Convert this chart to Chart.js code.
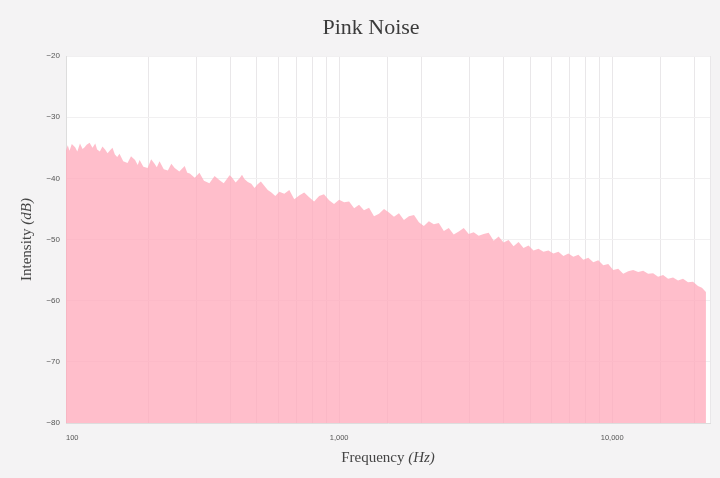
<!DOCTYPE html>
<html>
<head>
<meta charset="utf-8">
<script src="https://cdn.jsdelivr.net/npm/chart.js@4"></script>
<style>
  html, body { margin: 0; padding: 0; background: #ffffff; }
  #wrap { width: 720px; height: 478px; }
</style>
</head>
<body>
<div id="wrap"><canvas id="noise-chart" width="720" height="478"></canvas></div>
<script>
// Spectrum (Hz / dB)
const freqs = [
  100, 101.5, 103, 105, 108, 110, 112.5, 115, 117, 119, 122, 125, 128, 130, 133, 136, 139, 142, 145, 148,
  151, 154, 157, 162, 168, 173, 179, 183, 186, 192, 199, 205, 211, 215, 220, 228, 236, 243, 250, 260,
  272, 278, 284, 296, 308, 320, 335, 350, 365, 378, 390, 397, 404, 418, 432, 441, 450, 463, 477, 490,
  502, 517, 532, 548, 565, 584, 604, 630, 657, 685, 714, 745, 777, 810, 845, 880, 919, 958, 1000, 1043,
  1088, 1135, 1183, 1233, 1287, 1342, 1400, 1460, 1522, 1588, 1656, 1727, 1801, 1880, 1959, 2043, 2131, 2222, 2317, 2418,
  2520, 2628, 2742, 2860, 2982, 3110, 3243, 3383, 3528, 3680, 3837, 4002, 4173, 4352, 4539, 4734, 4937, 5150, 5370, 5600,
  5840, 6090, 6352, 6625, 6909, 7206, 7515, 7838, 8174, 8525, 8890, 9272, 9670, 10085, 10517, 10970, 11440, 11930, 12443, 12980,
  13534, 14115, 14720, 15350, 16011, 16700, 17415, 18160, 18942, 19760, 20603, 21300, 22030
];
const intensity = [
  -35.4, -34.6, -35.5, -34.4, -34.9, -35.6, -34.3, -35.2, -34.9, -34.5, -34.2, -35.0, -34.3, -35.3, -35.6, -34.8, -35.3, -35.9, -35.4, -35.0,
  -36.1, -36.5, -36.0, -37.2, -37.5, -36.4, -37.0, -37.8, -37.0, -38.1, -38.3, -36.9, -37.6, -38.2, -37.2, -38.5, -38.7, -37.6, -38.3, -38.9,
  -38.0, -39.1, -39.2, -39.9, -39.1, -40.4, -40.8, -39.6, -40.3, -40.8, -40.0, -39.5, -39.8, -40.7, -40.0, -39.4, -40.1, -40.6, -40.9, -41.6,
  -41.0, -40.5, -41.2, -41.9, -42.3, -42.9, -42.2, -42.5, -41.9, -43.4, -42.8, -42.3, -43.1, -43.8, -42.9, -42.6, -43.6, -44.2, -43.5, -43.9,
  -43.8, -44.9, -44.3, -45.2, -44.8, -46.2, -45.8, -45.0, -45.6, -46.3, -45.7, -46.8, -46.2, -46.0, -47.2, -47.8, -47.0, -47.5, -47.3, -48.6,
  -48.1, -49.2, -48.7, -48.1, -49.1, -48.8, -49.4, -49.1, -48.9, -50.2, -49.5, -50.5, -50.1, -51.1, -50.4, -51.4, -51.0, -51.8, -51.5, -52.0,
  -51.8, -52.3, -52.0, -52.7, -52.3, -52.8, -52.5, -53.3, -53.0, -53.7, -53.4, -54.2, -54.0, -55.0, -54.8, -55.6, -55.2, -55.0, -55.3, -55.1,
  -55.6, -55.5, -56.1, -55.8, -56.4, -56.2, -56.7, -56.4, -57.0, -56.9, -57.6, -57.9, -58.6
];
const xLabelTicks = [100, 1000, 10000];
const yRange = [-80, -20];

const serif = '"Liberation Serif", "DejaVu Serif", serif';

// fond gris + zone blanche, titres en serif
const frame = {
  id: 'frame',
  beforeDraw(chart) {
    const { ctx, chartArea: a } = chart;
    ctx.save();
    ctx.fillStyle = '#f4f3f4';
    ctx.fillRect(0, 0, chart.width, chart.height);
    ctx.fillStyle = '#ffffff';
    ctx.fillRect(a.left, a.top, a.right - a.left, a.bottom - a.top);
    ctx.restore();
  },
  afterDraw(chart) {
    const { ctx, chartArea: a } = chart;
    ctx.save();
    ctx.fillStyle = '#3b3b3b';
    ctx.textBaseline = 'middle';
    ctx.textAlign = 'center';
    ctx.font = '22px ' + serif;
    ctx.fillText('Pink Noise', 371, 28);

    function mixed(parts, cx, cy) {
      let w = 0;
      parts.forEach(p => { ctx.font = p.font; w += ctx.measureText(p.text).width; });
      let x = cx - w / 2;
      ctx.textAlign = 'left';
      parts.forEach(p => {
        ctx.font = p.font;
        ctx.fillText(p.text, x, cy);
        x += ctx.measureText(p.text).width;
      });
    }
    ctx.fillStyle = '#444444';
    mixed([{ text: 'Frequency ', font: '15px ' + serif }, { text: '(Hz)', font: 'italic 15px ' + serif }],
      (a.left + a.right) / 2, 458);
    ctx.translate(27, (a.top + a.bottom) / 2);
    ctx.rotate(-Math.PI / 2);
    mixed([{ text: 'Intensity ', font: '15px ' + serif }, { text: '(dB)', font: 'italic 15px ' + serif }], 0, 0);
    ctx.restore();
  }
};

const ctx = document.getElementById('noise-chart').getContext('2d');
new Chart(ctx, {
  type: 'line',
  data: {
    datasets: [{
      data: freqs.map((f, i) => ({ x: f, y: intensity[i] })),
      fill: 'start',
      backgroundColor: 'rgba(255, 168, 185, 0.75)',
      borderWidth: 0,
      pointRadius: 0,
      tension: 0
    }]
  },
  options: {
    responsive: false,
    animation: false,
    events: [],
    layout: { padding: { top: 56, right: 8, left: 0, bottom: 0 } },
    plugins: { legend: { display: false }, title: { display: false }, tooltip: { enabled: false } },
    scales: {
      x: {
        type: 'logarithmic',
        min: 100,
        max: 22800,
        afterFit(s) { s.height = 55; },
        grid: { color: '#e9e7e9', drawTicks: false },
        border: { color: '#dddddd' },
        ticks: {
          autoSkip: false,
          maxRotation: 0,
          align: 'inner',
          padding: 10,
          color: '#555555',
          font: { size: 7.5, family: 'Liberation Sans, Arial, sans-serif' },
          callback: v => xLabelTicks.includes(v) ? v.toLocaleString('en-US') : ''
        }
      },
      y: {
        min: yRange[0],
        max: yRange[1],
        afterFit(s) { s.width = 66; },
        grid: { color: '#f1f0f1', drawTicks: false },
        border: { color: '#dddddd' },
        ticks: {
          stepSize: 10,
          padding: 6,
          color: '#555555',
          font: { size: 8, family: 'Liberation Sans, Arial, sans-serif' },
          callback: v => '\u2212' + Math.abs(v)
        }
      }
    }
  },
  plugins: [frame]
});
</script>
</body>
</html>
